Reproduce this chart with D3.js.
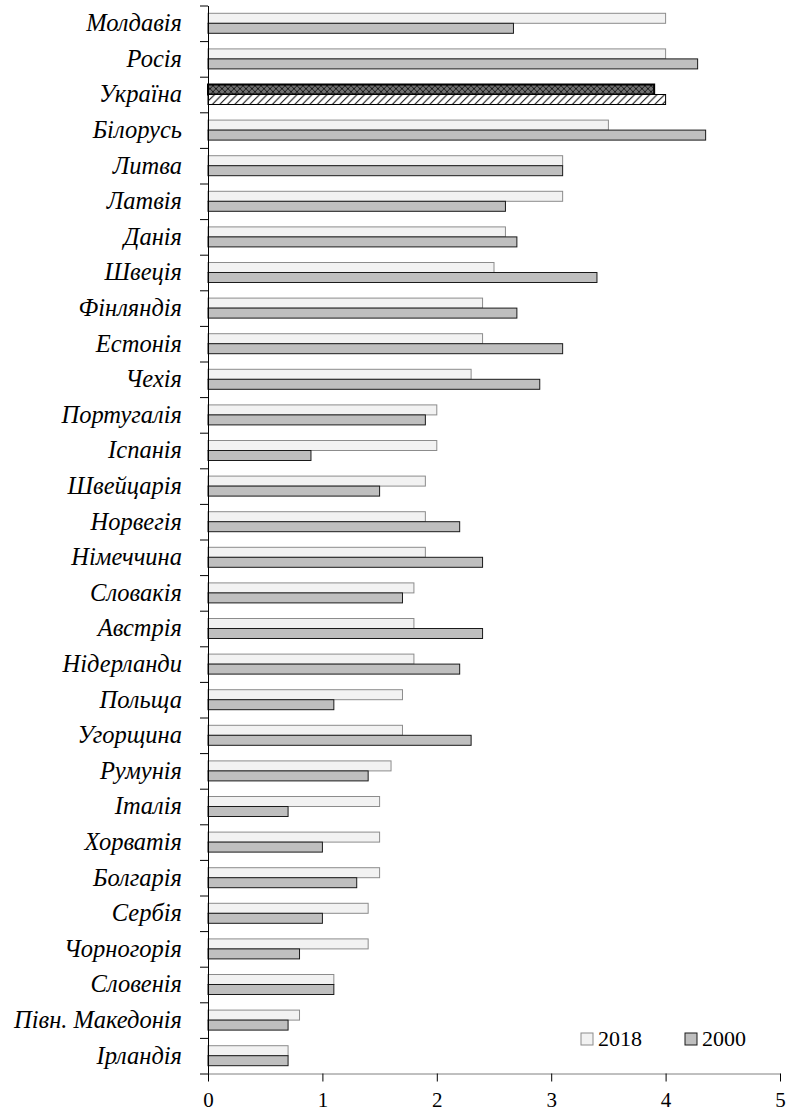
<!DOCTYPE html>
<html>
<head>
<meta charset="utf-8">
<script src="https://cdn.jsdelivr.net/npm/d3@7"></script>
<style>
  body { margin: 0; background: #fff; }
</style>
</head>
<body>
<div class="graphics"></div>
<script>
// categories, top to bottom
var countries = ["Молдавія", "Росія", "Україна", "Білорусь", "Литва", "Латвія", "Данія", "Швеція",
  "Фінляндія", "Естонія", "Чехія", "Португалія", "Іспанія", "Швейцарія", "Норвегія", "Німеччина",
  "Словакія", "Австрія", "Нідерланди", "Польща", "Угорщина", "Румунія", "Італія", "Хорватія",
  "Болгарія", "Сербія", "Чорногорія", "Словенія", "Півн. Македонія", "Ірландія"];

// series values
var v2018 = [4.0, 4.0, 3.9, 3.5, 3.1, 3.1, 2.6, 2.5, 2.4, 2.4, 2.3, 2.0, 2.0, 1.9, 1.9, 1.9,
  1.8, 1.8, 1.8, 1.7, 1.7, 1.6, 1.5, 1.5, 1.5, 1.4, 1.4, 1.1, 0.8, 0.7];
var v2000 = [2.67, 4.28, 4.0, 4.35, 3.1, 2.6, 2.7, 3.4, 2.7, 3.1, 2.9, 1.9, 0.9, 1.5, 2.2, 2.4,
  1.7, 2.4, 2.2, 1.1, 2.3, 1.4, 0.7, 1.0, 1.3, 1.0, 0.8, 1.1, 0.7, 0.7];

var seriesNames = ["2018", "2000"];
var xTicks = [0, 1, 2, 3, 4, 5];
var highlight = "Україна";

var FONT = "'Liberation Serif', 'Times New Roman', 'DejaVu Serif', serif";

function chart() {
  var W = 786, H = 1113;
  var svg = d3.select(".graphics")
    .append("svg")
    .attr("width", W)
    .attr("height", H);

  // patterns for the highlighted country
  var defs = svg.append("defs");
  var cross = defs.append("pattern")
    .attr("id", "cross")
    .attr("patternUnits", "userSpaceOnUse")
    .attr("width", 6).attr("height", 6);
  cross.append("rect").attr("width", 6).attr("height", 6).attr("fill", "#707070");
  cross.append("path").attr("d", "M0,0L6,6M6,0L0,6")
    .attr("stroke", "#111").attr("stroke-width", 0.9);

  var diag = defs.append("pattern")
    .attr("id", "diag")
    .attr("patternUnits", "userSpaceOnUse")
    .attr("width", 7.5).attr("height", 7.5);
  diag.append("rect").attr("width", 7.5).attr("height", 7.5).attr("fill", "#fff");
  diag.append("path").attr("d", "M0,7.5L7.5,0M-1,1L1,-1M6.5,8.5L8.5,6.5")
    .attr("stroke", "#000").attr("stroke-width", 1);

  var x = d3.scaleLinear()
    .domain([0, 5])
    .range([208, 780]);

  var y = d3.scaleBand()
    .domain(countries)
    .range([5.5, 1073.5]);

  var ySub = d3.scaleBand()
    .domain(seriesNames)
    .range([0, y.bandwidth()])
    .paddingOuter(0.78);

  var rows = countries.map(function(c, i) {
    return {name: c, vals: [v2018[i], v2000[i]]};
  });

  var style = {
    "2018": {fill: "#f2f2f2", stroke: "#8c8c8c"},
    "2000": {fill: "#bfbfbf", stroke: "#1a1a1a"}
  };

  // bars
  var g = svg.selectAll(".row")
    .data(rows)
    .enter()
    .append("g")
    .attr("transform", function(d) { return "translate(0," + y(d.name) + ")"; });

  g.selectAll("rect")
    .data(function(d) {
      return d.vals.map(function(v, j) { return {name: d.name, s: seriesNames[j], v: v}; });
    })
    .enter()
    .append("rect")
    .attr("x", x(0))
    .attr("y", function(d) { return ySub(d.s); })
    .attr("width", function(d) { return x(d.v) - x(0); })
    .attr("height", ySub.bandwidth())
    .attr("fill", function(d) {
      if (d.name === highlight) return d.s === "2018" ? "url(#cross)" : "url(#diag)";
      return style[d.s].fill;
    })
    .attr("stroke", function(d) { return d.name === highlight ? "#000" : style[d.s].stroke; })
    .attr("stroke-width", function(d) {
      return d.name === highlight && d.s === "2018" ? 2 : 1;
    });

  // y axis: labels
  var yAxis = svg.append("g")
    .attr("transform", "translate(208,0)")
    .call(d3.axisLeft(y).tickSize(0).tickPadding(26));
  yAxis.select(".domain").remove();
  yAxis.selectAll("text")
    .style("font-family", FONT)
    .style("font-size", "24.5px")
    .style("font-style", "italic")
    .attr("fill", "#000");

  // y axis: line and ticks between categories
  var yIdx = d3.scaleLinear().domain([0, countries.length]).range([5.5, 1073.5]);
  var yLine = svg.append("g")
    .attr("transform", "translate(208,0)")
    .call(d3.axisLeft(yIdx).ticks(countries.length).tickSize(8).tickSizeOuter(0).tickFormat(""));
  yLine.select(".domain").attr("stroke", "#000");
  yLine.selectAll(".tick line").attr("stroke", "#000");

  // x axis
  var xAxis = svg.append("g")
    .attr("transform", "translate(0,1073.5)")
    .call(d3.axisBottom(x).tickValues(xTicks).tickFormat(d3.format("d"))
      .tickSize(8).tickSizeOuter(0).tickPadding(11));
  xAxis.select(".domain").attr("stroke", "#808080");
  xAxis.selectAll(".tick line").attr("stroke", "#000");
  xAxis.selectAll("text")
    .style("font-family", FONT)
    .style("font-size", "21px")
    .attr("fill", "#000");

  // legend
  var legX = [581, 685];
  var leg = svg.selectAll(".leg")
    .data(seriesNames)
    .enter()
    .append("g")
    .attr("transform", function(d, i) { return "translate(" + legX[i] + ",1033)"; });
  leg.append("rect")
    .attr("width", 12).attr("height", 12)
    .attr("fill", function(d) { return style[d].fill; })
    .attr("stroke", function(d) { return style[d].stroke; });
  leg.append("text")
    .attr("x", 17)
    .attr("y", 13)
    .style("font-family", FONT)
    .style("font-size", "22px")
    .text(function(d) { return d; });
}

chart();
</script>
</body>
</html>
